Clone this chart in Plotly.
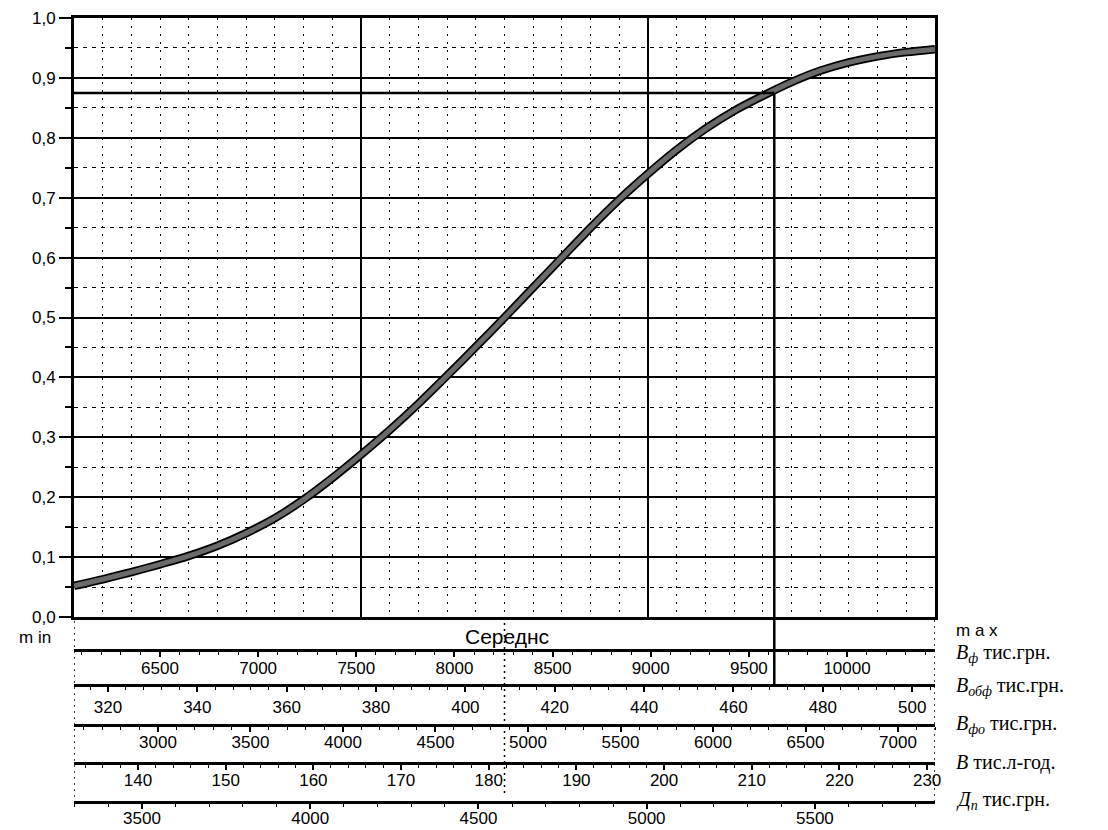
import plotly.graph_objects as go

# ---------------- data ----------------
grid_pos = list(range(31))  # position along the min..max scale (30 divisions)
prob = [0.052, 0.063, 0.075, 0.088, 0.102, 0.119, 0.140, 0.165, 0.196, 0.232,
        0.271, 0.312, 0.356, 0.403, 0.451, 0.500, 0.550, 0.600, 0.650, 0.697,
        0.740, 0.780, 0.815, 0.845, 0.870, 0.893, 0.912, 0.926, 0.936, 0.943, 0.948]

y_tick_vals = [0.0, 0.1, 0.2, 0.3, 0.4, 0.5, 0.6, 0.7, 0.8, 0.9, 1.0]
y_tick_text = ["0,0", "0,1", "0,2", "0,3", "0,4", "0,5", "0,6", "0,7", "0,8", "0,9", "1,0"]

sel_level = 0.875     # chosen probability level
sel_pos = 24.4        # its position on the scale
mid_pos = 15          # middle ("Середнс") position

vf_ticks = [6500, 7000, 7500, 8000, 8500, 9000, 9500, 10000]
vf_range = [6062, 10448]
vobf_ticks = [320, 340, 360, 380, 400, 420, 440, 460, 480, 500]
vobf_range = [312.4, 505.1]
vfo_ticks = [3000, 3500, 4000, 4500, 5000, 5500, 6000, 6500, 7000]
vfo_range = [2546, 7200]
v_ticks = [140, 150, 160, 170, 180, 190, 200, 210, 220, 230]
v_range = [132.7, 230.9]
dp_ticks = [3500, 4000, 4500, 5000, 5500]
dp_range = [3298, 5857]

band_labels = ["<i>B</i><sub><i>ф</i></sub> тис.грн.",
               "<i>B</i><sub><i>обф</i></sub> тис.грн.",
               "<i>B</i><sub><i>фо</i></sub> тис.грн.",
               "<i>B</i> тис.л-год.",
               "<i>Д</i><sub><i>п</i></sub> тис.грн."]

# ---------------- layout geometry ----------------
W, H = 1108, 830
L, R, T, B = 74, 173, 18, 28
PH = H - T - B
PW = W - L - R


def py(p):  # pixel y -> paper
    return (H - B - p) / PH


def px(p):  # pixel x -> paper
    return (p - L) / PW


FONT = "Liberation Sans"
SERIF = "Liberation Serif"

fig = go.Figure()
fig.add_trace(go.Scatter(x=grid_pos, y=prob, mode="lines",
                         line=dict(color="black", width=8.5, shape="spline", smoothing=0.8),
                         hoverinfo="skip", showlegend=False))
fig.add_trace(go.Scatter(x=grid_pos, y=prob, mode="lines",
                         line=dict(color="#6a6a6a", width=5, shape="spline", smoothing=0.8),
                         hoverinfo="skip", showlegend=False))

# name, ticks, range, minor step, line pixel y, label standoff
bands = [
    ("x2", vf_ticks, vf_range, 100, 650, -3),
    ("x3", vobf_ticks, vobf_range, 4, 685, 1),
    ("x4", vfo_ticks, vfo_range, 100, 725, -4),
    ("x5", v_ticks, v_range, 2, 763, -4),
    ("x6", dp_ticks, dp_range, 100, 802, -5),
]

layout_axes = {}
for name, ticks, rng, minor_dt, ypix, stand in bands:
    fig.add_trace(go.Scatter(x=ticks, y=[None] * len(ticks), xaxis=name, yaxis="y",
                             mode="markers", hoverinfo="skip", showlegend=False))
    key = "xaxis" + name[1:]
    layout_axes[key] = dict(
        range=rng, overlaying="x", anchor="free", position=py(ypix), side="bottom",
        automargin=False, ticklabelstandoff=stand,
        showline=True, linewidth=3, linecolor="black", showgrid=False, zeroline=False,
        tickmode="array", tickvals=ticks, ticktext=[str(t) for t in ticks],
        ticks="outside", ticklen=5, tickwidth=1.5, tickcolor="black",
        tickfont=dict(family=FONT, size=17, color="black"),
        minor=dict(tickmode="linear", tick0=0, dtick=minor_dt, ticks="outside",
                   ticklen=3, tickwidth=1.2, tickcolor="black", showgrid=False),
    )

fig.update_layout(
    width=W, height=H, margin=dict(l=L, r=R, t=T, b=B, autoexpand=False),
    paper_bgcolor="white", plot_bgcolor="white",
    xaxis=dict(domain=[0, 1], range=[0, 30], showticklabels=False, ticks="",
               automargin=False,
               tickmode="linear", tick0=0, dtick=10,
               showgrid=True, gridcolor="black", gridwidth=1.5, zeroline=False,
               showline=True, mirror=True, linewidth=3, linecolor="black",
               minor=dict(tickmode="linear", tick0=0, dtick=1, showgrid=True,
                          gridcolor="black", gridwidth=1.3, griddash="2px,6px")),
    yaxis=dict(domain=[py(617), 1], range=[0, 1], tickmode="array",
               automargin=False,
               tickvals=y_tick_vals, ticktext=y_tick_text,
               ticks="outside", ticklen=12, tickwidth=2, tickcolor="black",
               tickfont=dict(family=FONT, size=17, color="black"),
               showgrid=True, gridcolor="black", gridwidth=1.5, zeroline=False,
               showline=True, mirror=True, linewidth=3, linecolor="black",
               minor=dict(tickmode="linear", tick0=0, dtick=0.05, ticks="outside",
                          ticklen=6, tickwidth=1.5, tickcolor="black", showgrid=True,
                          gridcolor="black", gridwidth=1.3, griddash="4px,5px")),
    **layout_axes,
)

shapes = []
# selected level lines
shapes.append(dict(type="line", xref="x", yref="y", x0=0, x1=sel_pos, y0=sel_level, y1=sel_level,
                   line=dict(color="black", width=2.5)))
shapes.append(dict(type="line", xref="x", yref="y", x0=sel_pos, x1=sel_pos, y0=0, y1=sel_level,
                   line=dict(color="black", width=2.5)))
shapes.append(dict(type="line", xref="x", yref="paper", x0=sel_pos, x1=sel_pos,
                   y0=py(685), y1=py(617), line=dict(color="black", width=2.5)))
# dotted verticals through the bands
for xv, ybot in [(0, 803), (30, 802), (mid_pos, 793)]:
    shapes.append(dict(type="line", xref="x", yref="paper", x0=xv, x1=xv,
                       y0=py(ybot), y1=py(617), line=dict(color="black", width=1.5, dash="2px,4px")))
fig.update_layout(shapes=shapes)

ann = []
ann.append(dict(text="Середнс", x=px(507), y=py(636), xref="paper", yref="paper",
                xanchor="center", yanchor="middle",
                showarrow=False, font=dict(family=FONT, size=21, color="black")))
ann.append(dict(text="m in", x=px(53), y=py(637), xref="paper", yref="paper",
                xanchor="right", yanchor="middle",
                showarrow=False, font=dict(family=FONT, size=17, color="black")))
ann.append(dict(text="m a x", x=px(954), y=py(630), xref="paper", yref="paper",
                xanchor="left", yanchor="middle",
                showarrow=False, font=dict(family=FONT, size=17, color="black")))
for txt, ypix in zip(band_labels, [653, 686, 724, 762, 800]):
    ann.append(dict(text=txt, x=px(954), y=py(ypix), xref="paper", yref="paper",
                    xanchor="left", yanchor="middle",
                    showarrow=False, font=dict(family=SERIF, size=20, color="black")))
fig.update_layout(annotations=ann)

fig.write_html("out.html", config={"displayModeBar": False},
               post_script="document.body.style.margin='0px';document.body.style.overflow='hidden';")
